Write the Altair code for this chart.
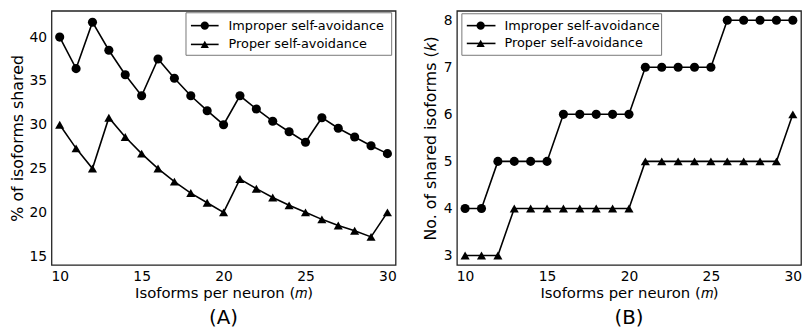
import altair as alt
import pandas as pd

# ---- data ----
m_values = [10, 11, 12, 13, 14, 15, 16, 17, 18, 19, 20,
            21, 22, 23, 24, 25, 26, 27, 28, 29, 30]
improper_pct = [40.0, 36.4, 41.7, 38.5, 35.7, 33.3, 37.5, 35.3, 33.3, 31.6, 30.0,
                33.3, 31.8, 30.4, 29.2, 28.0, 30.8, 29.6, 28.6, 27.6, 26.7]
proper_pct = [30.0, 27.3, 25.0, 30.8, 28.6, 26.7, 25.0, 23.5, 22.2, 21.1, 20.0,
              23.8, 22.7, 21.7, 20.8, 20.0, 19.2, 18.5, 17.9, 17.2, 20.0]
improper_k = [4, 4, 5, 5, 5, 5, 6, 6, 6, 6, 6,
              7, 7, 7, 7, 7, 8, 8, 8, 8, 8]
proper_k = [3, 3, 3, 4, 4, 4, 4, 4, 4, 4, 4,
            5, 5, 5, 5, 5, 5, 5, 5, 5, 6]
series_names = ["Improper self-avoidance", "Proper self-avoidance"]
x_ticks = [10, 15, 20, 25, 30]
pct_ticks = [15, 20, 25, 30, 35, 40]
k_ticks = [3, 4, 5, 6, 7, 8]

FONT = "DejaVu Sans"
SHAPES = ["circle", "triangle-up"]


def long_df(a, b):
    return pd.DataFrame({
        "m": m_values + m_values,
        "value": a + b,
        "series": [series_names[0]] * len(a) + [series_names[1]] * len(b),
    })


def legend_layers(box, line_x, marker_x, text_x, rows_y):
    layers = [
        alt.Chart(pd.DataFrame({"k": [0]}))
        .mark_rect(fill="white", stroke="#777", strokeWidth=1)
        .encode(x=alt.value(box[0]), x2=alt.value(box[1]),
                y=alt.value(box[2]), y2=alt.value(box[3]))
    ]
    for name, shape, yy in zip(series_names, SHAPES, rows_y):
        base = alt.Chart(pd.DataFrame({"label": [name]}))
        layers.append(base.mark_rule(color="black", strokeWidth=1.6).encode(
            x=alt.value(line_x[0]), x2=alt.value(line_x[1]), y=alt.value(yy)))
        layers.append(base.mark_point(shape=shape, filled=True, color="black",
                                      opacity=1, size=70).encode(
            x=alt.value(marker_x), y=alt.value(yy)))
        layers.append(base.mark_text(align="left", baseline="middle", font=FONT,
                                     fontSize=13, color="black").encode(
            x=alt.value(text_x), y=alt.value(yy), text="label:N"))
    return layers


def panel(df, ydomain, yticks, ytitle, title, leg, title_pad):
    xenc = alt.X("m:Q",
                 scale=alt.Scale(domain=[9.5, 30.5], nice=False, zero=False),
                 axis=alt.Axis(values=x_ticks, title="Isoforms per neuron (𝑚)"))
    yenc = alt.Y("value:Q",
                 scale=alt.Scale(domain=ydomain, nice=False, zero=False),
                 axis=alt.Axis(values=yticks, title=ytitle, titlePadding=title_pad))
    base = alt.Chart(df)
    line = base.mark_line(color="black", strokeWidth=1.6).encode(
        x=xenc, y=yenc, detail="series:N")
    pts = base.mark_point(filled=True, color="black", opacity=1, size=85).encode(
        x=xenc, y=yenc,
        shape=alt.Shape("series:N",
                        scale=alt.Scale(domain=series_names, range=SHAPES),
                        legend=None))
    return alt.layer(line, pts, *legend_layers(**leg)).properties(
        width=348, height=257,
        title=alt.TitleParams(title, orient="bottom", fontSize=20,
                              fontWeight="normal", font=FONT, color="black",
                              offset=8),
    )


panel_a = panel(
    long_df(improper_pct, proper_pct), [14, 43], pct_ticks,
    "% of isoforms shared", "(A)",
    dict(box=(136, 344, 2, 45), line_x=(141, 169), marker_x=155, text_x=179,
         rows_y=(15, 34)),
    4,
)
panel_b = panel(
    long_df(improper_k, proper_k), [2.8, 8.2], k_ticks,
    "No. of shared isoforms (𝑘)", "(B)",
    dict(box=(5, 207, 3, 45), line_x=(10, 39), marker_x=24, text_x=48,
         rows_y=(15, 33)),
    5,
)

chart = (
    alt.hconcat(panel_a, panel_b, spacing=62, bounds="flush")
    .properties(padding={"left": 0, "top": 0, "right": 0, "bottom": 0})
    .configure_view(stroke="#222", strokeWidth=1.3)
    .configure_axis(grid=False, ticks=False, domain=False,
                    labelFont=FONT, labelFontSize=14, labelColor="black",
                    labelPadding=5,
                    titleFont=FONT, titleFontWeight="normal",
                    titleColor="black", titlePadding=2)
    .configure_axisY(titleFontSize=16)
    .configure_axisX(labelPadding=5, titlePadding=2, titleFontSize=15)
)

chart.save("out.html", embed_options={"renderer": "svg", "actions": False})
